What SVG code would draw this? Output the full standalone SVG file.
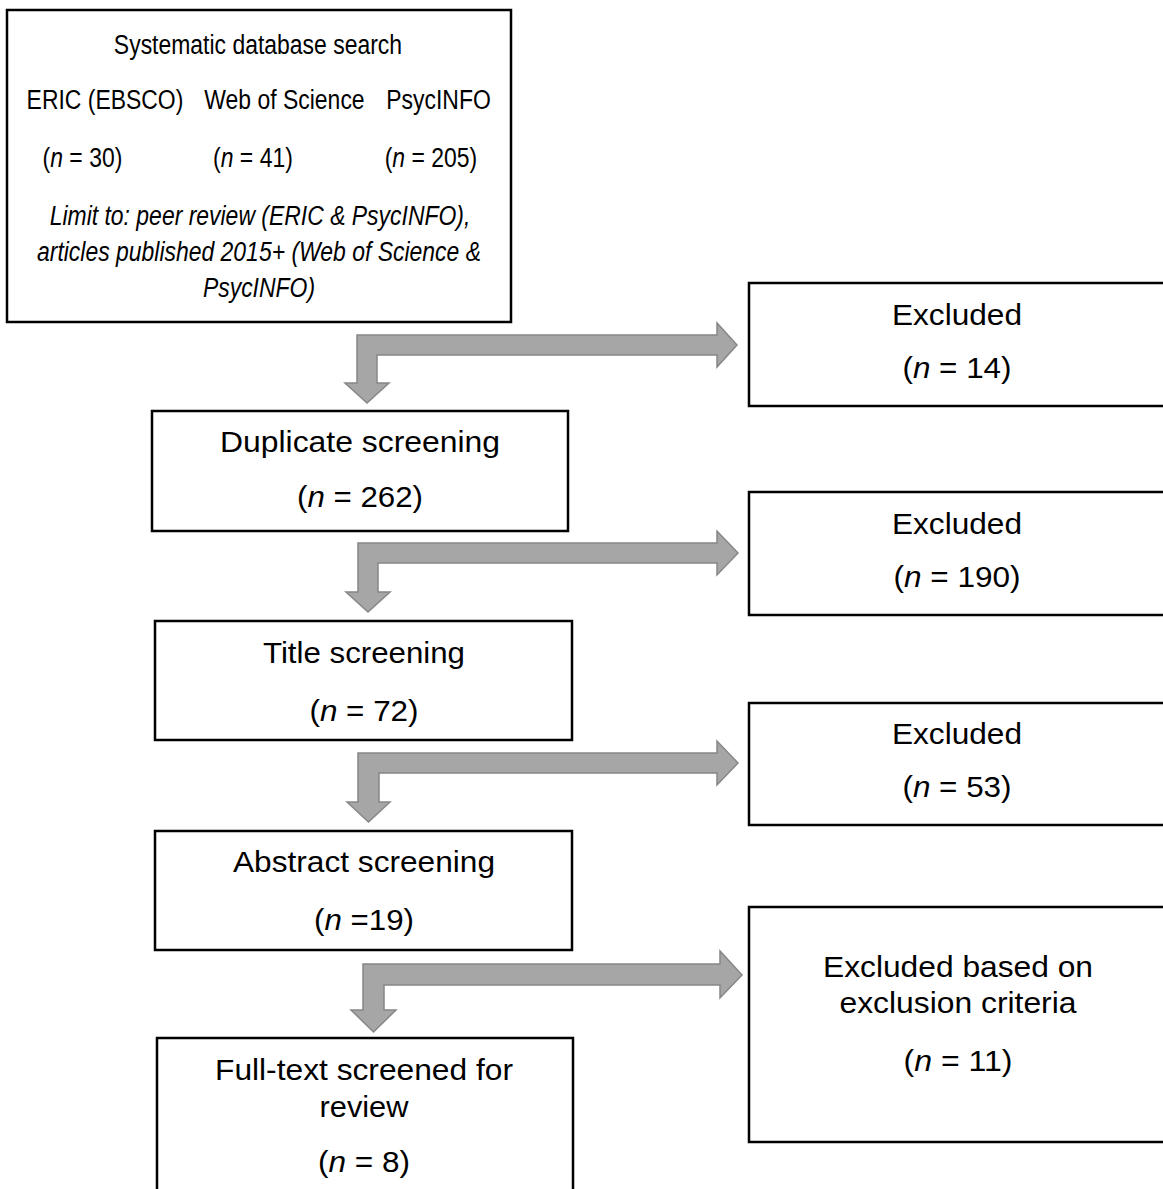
<svg xmlns="http://www.w3.org/2000/svg" width="1163" height="1189" viewBox="0 0 1163 1189">
<style>
.box{fill:#fff;stroke:#000;stroke-width:2.5}
.t{font-family:"Liberation Sans",Arial,sans-serif;font-size:29px;fill:#000;text-anchor:middle}
.s{font-family:"Liberation Sans",Arial,sans-serif;font-size:27px;fill:#000;text-anchor:middle}
.arr{fill:#a6a6a6;stroke:#878787;stroke-width:1.5;stroke-linejoin:miter}
</style>
<rect width="1163" height="1189" fill="#fff"/>
<g id="connectors">
<path class="arr" d="M357,335 L717,335 L717,323 L737,345 L717,367 L717,355 L377,355 L377,383 L389,383 L367,403 L345,383 L357,383 Z"/>
<path class="arr" d="M358,543 L717,543 L717,531 L738,553 L717,575 L717,563 L378,563 L378,592 L390,592 L368,612 L346,592 L358,592 Z"/>
<path class="arr" d="M358,753 L717,753 L717,741 L738,763 L717,785 L717,773 L379,773 L379,802 L390,802 L368.5,822 L347,802 L358,802 Z"/>
<path class="arr" d="M363,964 L720,964 L720,951 L742,975 L720,998 L720,985 L384,985 L384,1010 L396,1010 L373.5,1032 L351,1010 L363,1010 Z"/>
</g>
<g id="search">
<rect class="box" x="7" y="10" width="504" height="312" stroke-width="2"/>
<g transform="scale(0.85,1)">
<text class="s" x="303.5" y="54">Systematic database search</text>
<text class="s" x="123.5" y="109">ERIC (EBSCO)</text>
<text class="s" x="334.7" y="109">Web of Science</text>
<text class="s" x="515.9" y="109">PsycINFO</text>
<text class="s" x="97" y="167">(<tspan font-style="italic">n</tspan> = 30)</text>
<text class="s" x="297.6" y="167">(<tspan font-style="italic">n</tspan> = 41)</text>
<text class="s" x="507" y="167">(<tspan font-style="italic">n</tspan> = 205)</text>
<text class="s" x="305.9" y="225" font-style="italic">Limit to: peer review (ERIC &amp; PsycINFO),</text>
<text class="s" x="304.7" y="261" font-style="italic">articles published 2015+ (Web of Science &amp;</text>
<text class="s" x="304.7" y="297" font-style="italic">PsycINFO)</text>
</g>
</g>
<g id="excluded1">
<rect class="box" x="749" y="283" width="418" height="123"/>
<text class="t" x="957" y="325" textLength="130" lengthAdjust="spacingAndGlyphs">Excluded</text>
<text class="t" x="957" y="378" textLength="109" lengthAdjust="spacingAndGlyphs">(<tspan font-style="italic">n</tspan> = 14)</text>
</g>
<g id="duplicate">
<rect class="box" x="152" y="411" width="416" height="120"/>
<text class="t" x="360" y="452" textLength="280" lengthAdjust="spacingAndGlyphs">Duplicate screening</text>
<text class="t" x="360" y="507" textLength="126" lengthAdjust="spacingAndGlyphs">(<tspan font-style="italic">n</tspan> = 262)</text>
</g>
<g id="excluded2">
<rect class="box" x="749" y="492" width="418" height="123"/>
<text class="t" x="957" y="534" textLength="130" lengthAdjust="spacingAndGlyphs">Excluded</text>
<text class="t" x="957" y="587" textLength="127" lengthAdjust="spacingAndGlyphs">(<tspan font-style="italic">n</tspan> = 190)</text>
</g>
<g id="title">
<rect class="box" x="155" y="621" width="417" height="119"/>
<text class="t" x="364" y="663" textLength="202" lengthAdjust="spacingAndGlyphs">Title screening</text>
<text class="t" x="364" y="721" textLength="109" lengthAdjust="spacingAndGlyphs">(<tspan font-style="italic">n</tspan> = 72)</text>
</g>
<g id="excluded3">
<rect class="box" x="749" y="703" width="418" height="122"/>
<text class="t" x="957" y="744" textLength="130" lengthAdjust="spacingAndGlyphs">Excluded</text>
<text class="t" x="957" y="797" textLength="109" lengthAdjust="spacingAndGlyphs">(<tspan font-style="italic">n</tspan> = 53)</text>
</g>
<g id="abstract">
<rect class="box" x="155" y="831" width="417" height="119"/>
<text class="t" x="364" y="872" textLength="262" lengthAdjust="spacingAndGlyphs">Abstract screening</text>
<text class="t" x="364" y="930" textLength="100" lengthAdjust="spacingAndGlyphs">(<tspan font-style="italic">n</tspan> =19)</text>
</g>
<g id="excluded4">
<rect class="box" x="749" y="907" width="418" height="235"/>
<text class="t" x="958" y="977" textLength="270" lengthAdjust="spacingAndGlyphs">Excluded based on</text>
<text class="t" x="958" y="1013" textLength="237" lengthAdjust="spacingAndGlyphs">exclusion criteria</text>
<text class="t" x="958" y="1071" textLength="109" lengthAdjust="spacingAndGlyphs">(<tspan font-style="italic">n</tspan> = 11)</text>
</g>
<g id="fulltext">
<rect class="box" x="157" y="1038" width="416" height="170"/>
<text class="t" x="364" y="1080" textLength="298" lengthAdjust="spacingAndGlyphs">Full-text screened for</text>
<text class="t" x="364" y="1117" textLength="89" lengthAdjust="spacingAndGlyphs">review</text>
<text class="t" x="364" y="1172" textLength="92" lengthAdjust="spacingAndGlyphs">(<tspan font-style="italic">n</tspan> = 8)</text>
</g>
</svg>
